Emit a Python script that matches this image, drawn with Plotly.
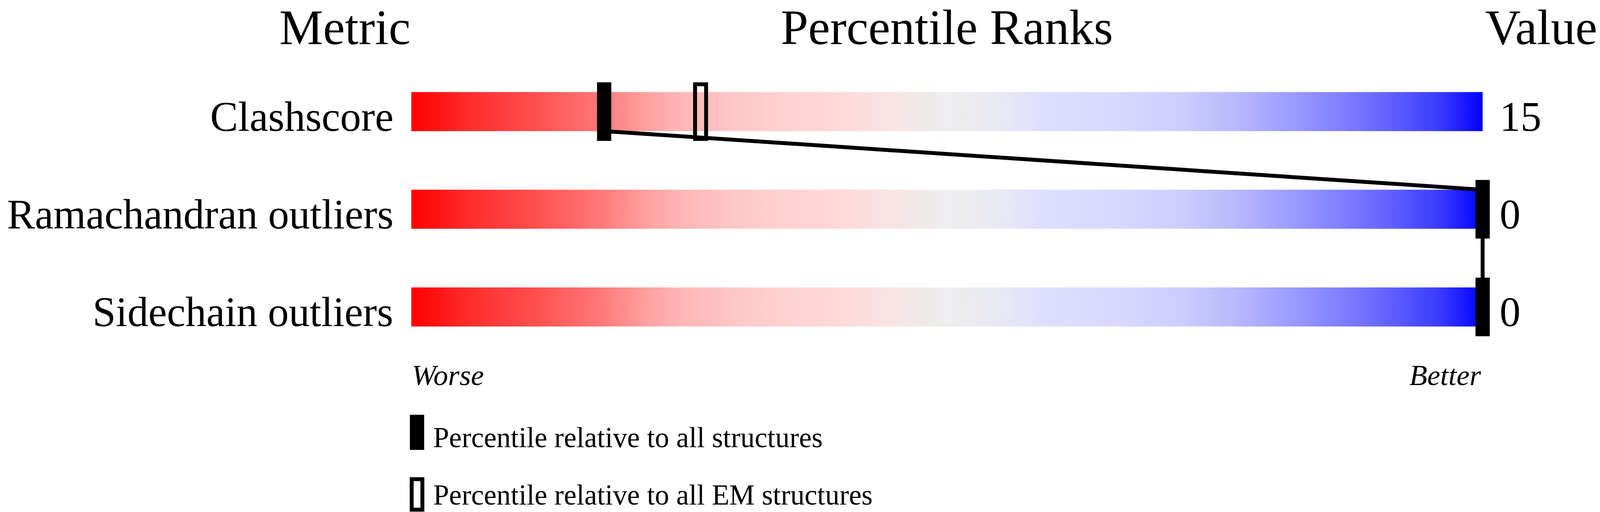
import plotly.graph_objects as go

# ---------------- data ----------------
metrics = ["Clashscore", "Ramachandran outliers", "Sidechain outliers"]
values = ["15", "0", "0"]
pct_all = [18, 100, 100]          # percentile relative to all structures
pct_em = [27, None, None]         # percentile relative to all EM structures
titles = ["Metric", "Percentile Ranks", "Value"]
scale_labels = ["Worse", "Better"]
legend_labels = ["Percentile relative to all structures",
                 "Percentile relative to all EM structures"]

# gradient colours (position, colour)
grad_pos = [0.0, 0.05, 0.10, 0.125, 0.15, 0.175, 0.20, 0.225, 0.25, 0.30, 0.35,
            0.40, 0.45, 0.475, 0.50, 0.55, 0.59, 0.66, 0.72, 0.77, 0.82, 0.87,
            0.915, 0.96, 1.0]
grad_col = ["#ff0000", "#ff2a2a", "#ff4646", "#ff5555", "#ff6666", "#ff7777",
            "#ff8f8f", "#ffa4a4", "#ffb5b5", "#ffc6c6", "#ffd2d2", "#ffd8d8",
            "#f8e4e4", "#f2e8e8", "#eeeeee", "#e8e8f4", "#dedefe", "#d8d8ff",
            "#ccccff", "#b8b8fc", "#9c9cff", "#7e7eff", "#6060ff", "#3a3aff",
            "#0000ff"]

# ---------------- layout constants (design pixels of the 4485x1311 reference) ----
W, H = 4485, 1311
FS = 0.913                         # font scale (page viewport is narrower than design)
BAR_L, BAR_R = 1153, 4156          # px of percentile 0 and 100
ROW0, PITCH = 285.7, 250.15        # px centre of first row, row pitch
BAR_HALF = 50                      # px
MARK_HALF_H, MARK_HALF_W = 75, 20  # px
LINE_W = 10
FONT = "Liberation Serif, Times New Roman, serif"

ppu_x = (BAR_R - BAR_L) / 100.0    # px per percentile unit
x_range = [-BAR_L / ppu_x, (W - BAR_L) / ppu_x]
y_range = [(H - ROW0) / PITCH, (0 - ROW0) / PITCH]  # reversed

bh = BAR_HALF / PITCH
mh = MARK_HALF_H / PITCH
mw = MARK_HALF_W / ppu_x

fig = go.Figure()

colorscale = [[p, c] for p, c in zip(grad_pos, grad_col)]

# gradient bars
for i, m in enumerate(metrics):
    fig.add_trace(go.Scatter(
        x=[0, 100, 100, 0, 0], y=[i - bh, i - bh, i + bh, i + bh, i - bh],
        mode="lines", line=dict(width=0), fill="toself",
        fillgradient=dict(type="horizontal", colorscale=colorscale),
        hoverinfo="skip", showlegend=False))

# connecting line through percentile positions (bottom of a bar -> top of next)
lx, ly = [], []
for i, p in enumerate(pct_all):
    lx += [p, p]
    ly += [i - bh, i + bh]
fig.add_trace(go.Scatter(x=lx[1:-1], y=ly[1:-1], mode="lines",
                         line=dict(color="black", width=LINE_W),
                         hoverinfo="skip", showlegend=False))

shapes = []
for i, p in enumerate(pct_all):
    shapes.append(dict(type="rect", xref="x", yref="y",
                       x0=p - mw, x1=p + mw, y0=i - mh, y1=i + mh,
                       fillcolor="black", line=dict(width=0)))
inset_x = (LINE_W / 2 * FS) / ppu_x
inset_y = (LINE_W / 2) / PITCH
for i, p in enumerate(pct_em):
    if p is None:
        continue
    shapes.append(dict(type="rect", xref="x", yref="y",
                       x0=p - mw + inset_x, x1=p + mw - inset_x,
                       y0=i - mh + inset_y, y1=i + mh - inset_y,
                       fillcolor="rgba(0,0,0,0)",
                       line=dict(color="black", width=LINE_W)))

# legend glyphs (paper fractions from design pixels)
def px(x):
    return x / W

def py(y):
    return 1 - y / H

shapes.append(dict(type="rect", xref="paper", yref="paper",
                   x0=px(1149), x1=px(1189), y0=py(1152), y1=py(1062),
                   fillcolor="black", line=dict(width=0)))
shapes.append(dict(type="rect", xref="paper", yref="paper",
                   x0=px(1154), x1=px(1184), y0=py(1305), y1=py(1227),
                   fillcolor="rgba(0,0,0,0)", line=dict(color="black", width=LINE_W)))

ann = []

def text_at(x_px, baseline_px, text, size, xanchor, italic=False):
    # place so that the text baseline sits at baseline_px
    size = round(size * FS)
    desc = 0.216 * size
    ann.append(dict(xref="paper", yref="paper", x=px(x_px),
                    y=py(baseline_px + desc), text=text, showarrow=False,
                    xanchor=xanchor, yanchor="bottom", borderpad=0,
                    font=dict(family=FONT, size=size, color="black",
                              style="italic" if italic else "normal")))

TITLE_SIZE = 138
TITLE_BASE = 114
text_at(1152, TITLE_BASE, titles[0], TITLE_SIZE, "right")
text_at((BAR_L + BAR_R) / 2, TITLE_BASE, titles[1], TITLE_SIZE, "center")
text_at(4478, TITLE_BASE, titles[2], TITLE_SIZE, "right")

LABEL_SIZE = 117
for i, m in enumerate(metrics):
    base = ROW0 + PITCH * i + BAR_HALF
    text_at(1104, base, m, LABEL_SIZE, "right")
    text_at(4203, base, values[i], LABEL_SIZE, "left")

text_at(BAR_L, 987, scale_labels[0], 82, "left", italic=True)
text_at(4153, 987, scale_labels[1], 82, "right", italic=True)

text_at(1213, 1146, legend_labels[0], 80, "left")
text_at(1213, 1293, legend_labels[1], 80, "left")

fig.update_layout(
    autosize=True,
    margin=dict(l=0, r=0, t=0, b=0),
    paper_bgcolor="white", plot_bgcolor="white",
    xaxis=dict(range=x_range, visible=False, fixedrange=True),
    yaxis=dict(range=y_range, visible=False, fixedrange=True),
    shapes=shapes, annotations=ann, showlegend=False,
)

fig.write_html(
    "out.html",
    default_width="100vw", default_height="100vh",
    config={"responsive": True, "displayModeBar": False},
    post_script="document.body.style.margin='0';document.body.style.overflow='hidden';"
                "document.documentElement.style.overflow='hidden';",
)
